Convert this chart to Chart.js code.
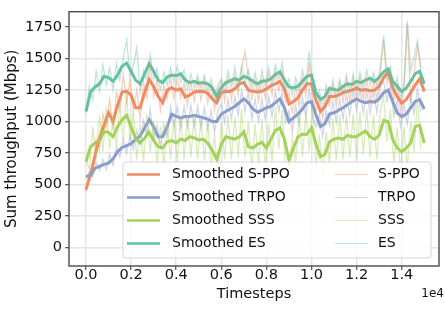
<!DOCTYPE html>
<html>
<head>
<meta charset="utf-8">
<script src="https://cdn.jsdelivr.net/npm/chart.js@4.4.0/dist/chart.umd.min.js"></script>
<style>
  html, body { margin: 0; padding: 0; background: #fff; }
</style>
</head>
<body>
<canvas id="chart" width="445" height="311"></canvas>
<script>
const seriesNames = ["S-PPO", "TRPO", "SSS", "ES"];
const seriesColors = ["#f08a62", "#8a9dca", "#a5d25a", "#63c2a2"];
const xTicks = [0, 2000, 4000, 6000, 8000, 10000, 12000, 14000];
const yTicks = [0, 250, 500, 750, 1000, 1250, 1500, 1750];

// smoothed curves, one value every 200 timesteps
const smoothStep = 200;
const smoothSPPO = [460,580,730,870,970,1070,1000,1130,1235,1240,1210,1110,1110,1230,1335,1280,1200,1150,1250,1270,1250,1260,1195,1210,1235,1240,1240,1225,1180,1150,1230,1240,1240,1260,1300,1310,1250,1240,1235,1240,1260,1285,1300,1320,1260,1140,1160,1190,1250,1300,1300,1170,1080,1120,1200,1200,1210,1230,1240,1250,1265,1250,1255,1245,1250,1280,1350,1395,1270,1200,1145,1175,1230,1290,1340,1240];
const smoothTRPO = [565,570,630,645,660,670,705,760,795,810,825,860,885,950,1015,960,880,880,960,1060,1040,1030,1040,1040,1050,1040,1030,1020,1000,1000,1060,1080,1100,1120,1150,1180,1150,1100,1075,1090,1110,1120,1150,1180,1110,1000,1030,1060,1100,1150,1160,1050,960,985,1060,1070,1090,1110,1135,1160,1180,1160,1150,1160,1155,1180,1230,1250,1160,1070,1040,1060,1110,1160,1175,1100];
const smoothSSS = [680,800,830,850,920,915,880,960,1015,1050,960,860,830,870,915,850,800,790,840,850,830,860,850,880,870,855,860,830,770,700,820,880,870,860,880,920,800,790,820,835,790,860,930,950,860,690,790,880,900,900,950,820,720,740,840,860,870,860,890,880,880,905,925,880,860,890,1010,1000,860,790,760,790,830,960,970,830];
const smoothES = [1080,1235,1275,1300,1360,1350,1320,1370,1440,1465,1400,1330,1300,1380,1460,1400,1330,1310,1355,1370,1365,1380,1330,1310,1320,1305,1310,1300,1270,1200,1270,1310,1325,1340,1330,1360,1345,1320,1300,1320,1325,1340,1375,1395,1330,1275,1270,1280,1320,1360,1370,1230,1175,1200,1265,1255,1250,1280,1300,1295,1320,1310,1330,1345,1320,1350,1395,1420,1320,1280,1240,1265,1320,1380,1400,1300];

// raw curves, one value every 150 timesteps
const rawStep = 150;
const rawSPPO = [440,600,590,860,780,1060,950,1180,930,1230,1100,1380,1150,1340,1080,1250,1020,1320,1190,1450,1200,1330,1090,1290,1180,1360,1180,1350,1190,1310,1130,1310,1160,1330,1170,1330,1150,1280,1090,1260,1320,1160,1340,1170,1360,1210,1420,1560,1350,1170,1330,1160,1340,1180,1370,1210,1400,1240,1400,1150,1230,1070,1280,1120,1340,1200,1470,1180,1090,1180,1020,1240,1120,1290,1120,1310,1150,1330,1160,1340,1180,1350,1170,1340,1160,1340,1180,1380,1650,1300,1420,1170,1290,1080,1250,1780,1150,1380,1610,1420];
const rawTRPO = [550,600,560,680,610,700,620,740,650,800,720,860,750,890,780,930,820,1010,900,1100,880,970,800,980,880,1120,960,1120,950,1120,960,1130,960,1120,950,1110,940,1090,910,1090,1140,990,1180,1020,1200,1050,1250,1080,1240,1020,1180,1000,1180,1020,1200,1040,1240,1080,1240,990,1090,920,1130,980,1190,1040,1260,1040,960,1060,880,1090,970,1160,990,1180,1020,1220,1050,1250,1090,1260,1070,1240,1070,1250,1070,1280,1320,1160,1300,1040,1170,960,1140,980,1200,1060,1260,1080];
const rawSSS = [700,620,960,700,1050,760,1120,780,1040,800,1150,850,1220,860,1080,700,980,680,1060,760,1010,660,960,640,1000,700,1020,680,1050,700,1050,720,1060,700,1030,690,1000,640,900,560,1000,700,1050,700,1040,720,1100,720,1000,620,980,650,1020,630,980,680,1120,780,1100,620,560,880,680,1060,720,1080,760,1120,640,900,560,920,660,1030,690,1050,700,1060,720,1060,700,1080,740,1100,720,1050,700,1100,1200,840,1100,660,960,600,960,630,1000,760,1180,780];
const rawES = [1070,1280,1170,1400,1240,1450,1290,1430,1250,1460,1330,1500,1650,1370,1440,1590,1230,1410,1330,1530,1340,1420,1250,1390,1290,1430,1310,1440,1310,1410,1260,1380,1270,1370,1260,1370,1240,1340,1160,1290,1340,1230,1400,1280,1430,1270,1440,1290,1410,1270,1390,1250,1410,1280,1430,1290,1450,1340,1470,1250,1340,1210,1350,1230,1410,1280,1560,1270,1160,1250,1110,1290,1200,1330,1190,1330,1220,1370,1240,1380,1250,1390,1260,1410,1290,1390,1280,1430,1680,1350,1430,1240,1350,1180,1300,1800,1400,1510,1640,1420];

const smoothSeries = [smoothSPPO, smoothTRPO, smoothSSS, smoothES];
const rawSeries = [rawSPPO, rawTRPO, rawSSS, rawES];

function toPoints(values, step) {
  return values.map((v, i) => ({ x: i * step, y: v }));
}

function rgba(hex, a) {
  const n = parseInt(hex.slice(1), 16);
  return `rgba(${n >> 16}, ${(n >> 8) & 255}, ${n & 255}, ${a})`;
}

const datasets = [];
seriesNames.forEach((name, i) => {
  datasets.push({
    label: "Smoothed " + name,
    data: toPoints(smoothSeries[i], smoothStep),
    borderColor: seriesColors[i],
    borderWidth: 3,
  });
});
seriesNames.forEach((name, i) => {
  datasets.push({
    label: name,
    data: toPoints(rawSeries[i], rawStep),
    borderColor: rgba(seriesColors[i], 0.42),
    borderWidth: 1.3,
  });
});
// matplotlib order: later lines on top
datasets.forEach((d, i) => {
  d.order = datasets.length - i;
  d.pointRadius = 0;
  d.tension = 0;
  d.fill = false;
});

const FONT = "'DejaVu Sans', sans-serif";

// spines, legend and the 1e4 offset label
const framePlugin = {
  id: "frame",
  afterDatasetsDraw(chart) {
    const ctx = chart.ctx;
    const a = chart.chartArea;
    ctx.save();
    ctx.strokeStyle = "#4a4a4a";
    ctx.lineWidth = 1.4;
    ctx.strokeRect(a.left, a.top, a.right - a.left, a.bottom - a.top);
    ctx.restore();
  },
  afterDraw(chart) {
    const ctx = chart.ctx;
    const a = chart.chartArea;
    ctx.save();

    // legend box
    const bx = 123, by = 162, bw = 308, bh = 96, r = 3;
    ctx.beginPath();
    ctx.roundRect(bx, by, bw, bh, r);
    ctx.fillStyle = "rgba(255,255,255,0.8)";
    ctx.fill();
    ctx.strokeStyle = "#d6d6d6";
    ctx.lineWidth = 1;
    ctx.stroke();

    ctx.font = "14px " + FONT;
    ctx.textBaseline = "middle";
    ctx.fillStyle = "#111";
    const rowY = [174.5, 197.5, 220.5, 243.5];
    const cols = [{ hx: 127, tx: 172 }, { hx: 335, tx: 378 }];
    chart.data.datasets.forEach((d, i) => {
      const col = cols[Math.floor(i / 4)];
      const y = rowY[i % 4];
      ctx.beginPath();
      ctx.moveTo(col.hx, y);
      ctx.lineTo(col.hx + 33, y);
      ctx.strokeStyle = d.borderColor;
      ctx.lineWidth = d.borderWidth < 2 ? 1.2 : 2.6;
      ctx.stroke();
      ctx.fillText(d.label, col.tx, y);
    });

    ctx.font = "12px " + FONT;
    ctx.textAlign = "right";
    ctx.fillText("1e4", a.right + 5, 294);
    ctx.restore();
  }
};

new Chart(document.getElementById("chart"), {
  type: "line",
  data: { datasets },
  options: {
    responsive: false,
    animation: false,
    events: [],
    layout: { padding: { left: 0, right: 6, top: 5, bottom: 0 } },
    plugins: { legend: { display: false }, tooltip: { enabled: false } },
    scales: {
      x: {
        type: "linear",
        min: -754,
        max: 15655,
        afterBuildTicks: (s) => { s.ticks = xTicks.map(v => ({ value: v })); },
        afterFit: (s) => { s.height = 45; },
        border: { display: false },
        grid: { color: "#e6e6e6", lineWidth: 1.5, tickColor: "#333", tickLength: 4, tickWidth: 1 },
        ticks: {
          font: { family: FONT, size: 14.5 },
          color: "#111",
          padding: -3,
          maxRotation: 0,
          callback: (v) => (v / 10000).toFixed(1)
        },
        title: { display: true, text: "Timesteps", font: { family: FONT, size: 14.5 }, color: "#111", padding: { top: 0, bottom: 8 } }
      },
      y: {
        min: -147,
        max: 1873,
        afterBuildTicks: (s) => { s.ticks = yTicks.map(v => ({ value: v })); },
        afterFit: (s) => { s.width = 69; },
        border: { display: false },
        grid: { color: "#e6e6e6", lineWidth: 1.5, tickColor: "#333", tickLength: 4, tickWidth: 1 },
        ticks: {
          font: { family: FONT, size: 14.5 },
          color: "#111",
          padding: 3,
          callback: (v) => String(v)
        },
        title: { display: true, text: "Sum throughput (Mbps)", font: { family: FONT, size: 15 }, color: "#111", padding: { top: 3, bottom: 0 } }
      }
    }
  },
  plugins: [framePlugin]
});
</script>
</body>
</html>
